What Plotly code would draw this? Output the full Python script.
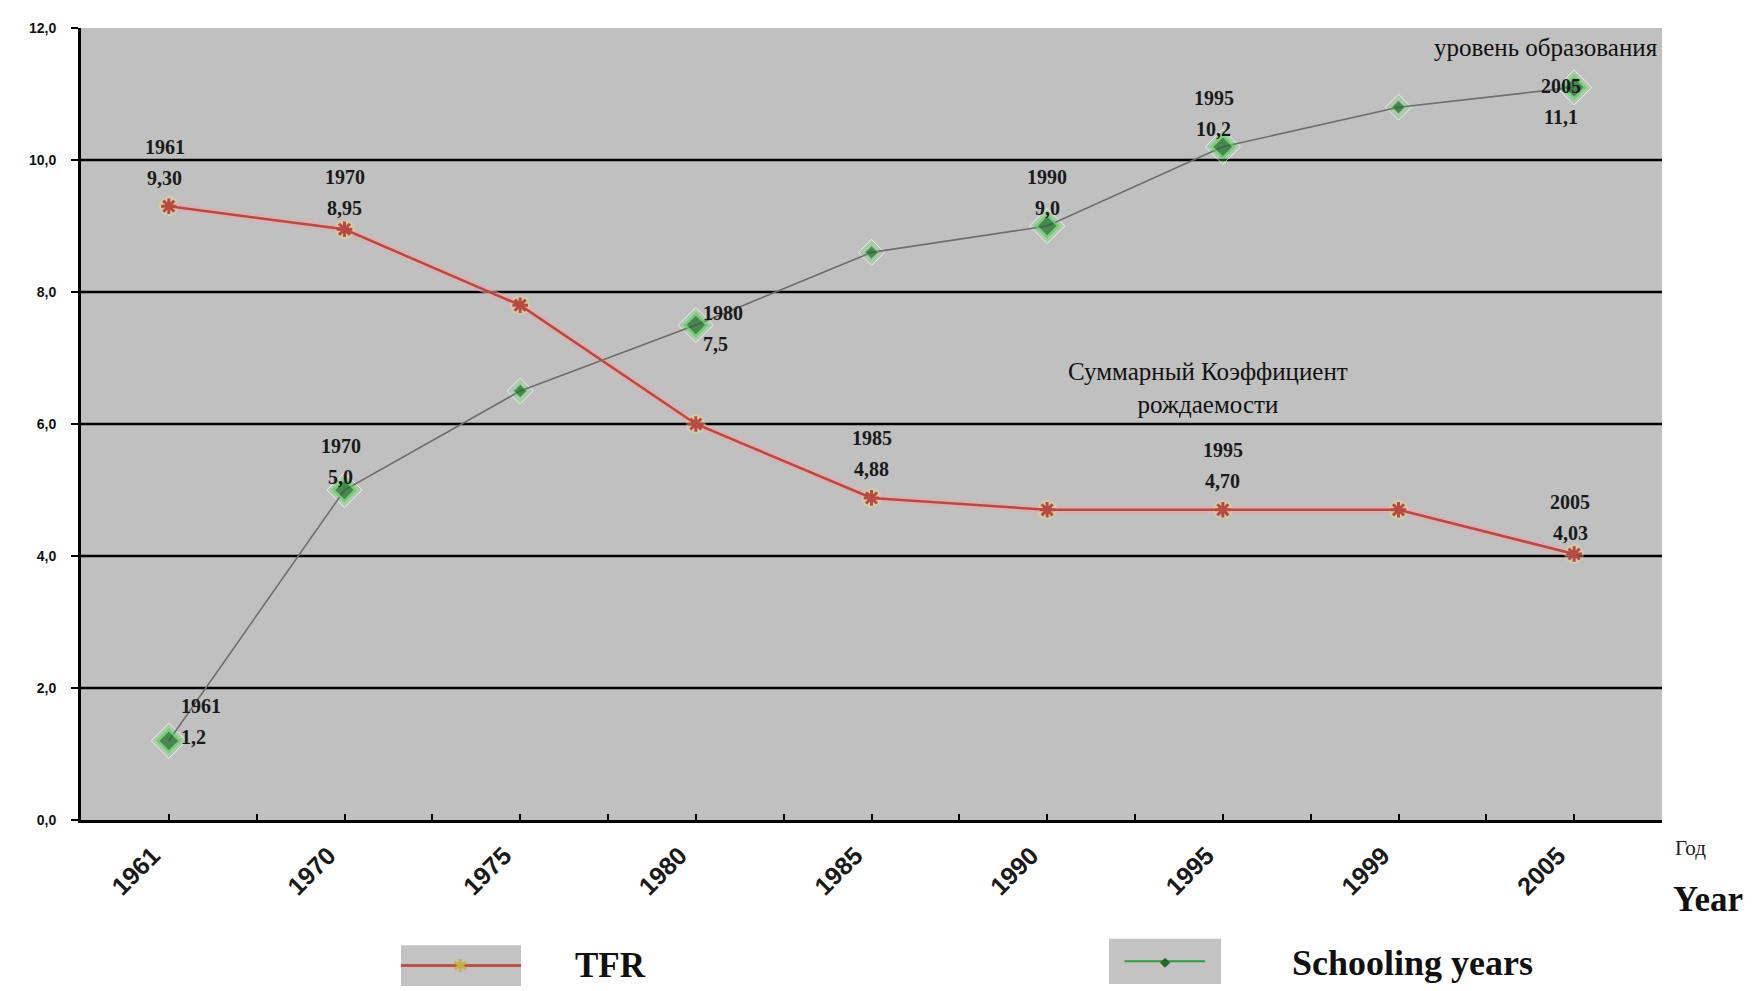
import plotly.graph_objects as go

# ---------------- data ----------------
years = ["1961", "1970", "1975", "1980", "1985", "1990", "1995", "1999", "2005"]
tfr = [9.30, 8.95, 7.80, 6.00, 4.88, 4.70, 4.70, 4.70, 4.03]
schooling = [1.2, 5.0, 6.5, 7.5, 8.6, 9.0, 10.2, 10.8, 11.1]
y_ticks = [0, 2, 4, 6, 8, 10, 12]
y_ticktext = ["0,0", "2,0", "4,0", "6,0", "8,0", "10,0", "12,0"]
grid_values = [2, 4, 6, 8, 10]

# indices of points carrying a data label
tfr_labeled = [0, 1, 4, 6, 8]
school_labeled = [0, 1, 3, 5, 6, 8]

# label placement styles: (xanchor, xshift, value yshift); year line sits LINE_GAP px above
tfr_label_style = {0: ("center", -4, 28), 1: ("center", 0, 21),
                   4: ("center", 0, 29), 6: ("center", 0, 29), 8: ("center", -4, 21)}
school_label_style = {0: ("left", 10, 4), 1: ("center", -4, 13),
                      3: ("left", 5, -19), 5: ("center", 0, 18),
                      6: ("center", -9, 18), 8: ("center", -13, -30)}
LINE_GAP = 31

x = list(range(len(years)))

fig = go.Figure()

# TFR: soft halo + line with asterisk markers
fig.add_trace(go.Scatter(x=x, y=tfr, mode="lines+markers",
                         line=dict(color="rgba(240,165,165,0.6)", width=7),
                         marker=dict(symbol="circle", size=20, color="rgba(235,230,120,0.35)"),
                         hoverinfo="skip", showlegend=False))
fig.add_trace(go.Scatter(x=x, y=tfr, mode="lines+markers", name="TFR",
                         line=dict(color="#B84A44", width=2.5),
                         marker=dict(symbol="asterisk-open", size=13,
                                     line=dict(color="#B8A048", width=3)),
                         showlegend=False))

# Schooling years: glow + gray line with green diamonds
s_sizes = [17 if i in school_labeled else 10 for i in x]
s_line_w = [2.5 if i in school_labeled else 1 for i in x]
fig.add_trace(go.Scatter(x=x, y=schooling, mode="markers",
                         marker=dict(symbol="diamond", size=[s + 10 for s in s_sizes],
                                     color="rgba(120,230,120,0.35)"),
                         hoverinfo="skip", showlegend=False))
fig.add_trace(go.Scatter(x=x, y=schooling, mode="lines+markers", name="Schooling years",
                         line=dict(color="#6E6E6E", width=1.6),
                         marker=dict(symbol="diamond", size=s_sizes, color="#1D6A2C",
                                     line=dict(color="#5FD35F", width=s_line_w)),
                         showlegend=False))

# gridlines (black, through the y scale)
for g in grid_values:
    fig.add_shape(type="line", xref="paper", x0=0, x1=1, yref="y", y0=g, y1=g,
                  line=dict(color="black", width=2.5), layer="below")

label_font = dict(family="Liberation Serif", size=20, color="#1a1a1a", weight="bold")


def fmt(v, nd):
    return f"{v:.{nd}f}".replace(".", ",")


def add_point_label(xi, yi, year, value_text, style):
    xa, dx, dy = style
    fig.add_annotation(x=xi, y=yi, text=value_text, showarrow=False, xanchor=xa,
                       yanchor="middle", xshift=dx, yshift=dy, font=label_font)
    fig.add_annotation(x=xi, y=yi, text=year, showarrow=False, xanchor=xa,
                       yanchor="middle", xshift=dx, yshift=dy + LINE_GAP, font=label_font)


for i in tfr_labeled:
    add_point_label(x[i], tfr[i], years[i], fmt(tfr[i], 2), tfr_label_style[i])
for i in school_labeled:
    add_point_label(x[i], schooling[i], years[i], fmt(schooling[i], 1), school_label_style[i])

# text annotations inside plot
fig.add_annotation(xref="paper", yref="paper", x=0.999, y=0.975, xanchor="right", yanchor="middle",
                   text="уровень образования", showarrow=False,
                   font=dict(family="Liberation Serif", size=25, color="#111111"))
fig.add_annotation(xref="paper", yref="paper", x=0.713, y=0.545, xanchor="center", yanchor="middle",
                   text="Суммарный Коэффициент<br>рождаемости", showarrow=False,
                   font=dict(family="Liberation Serif", size=25, color="#111111"))

# axis titles at right
fig.add_annotation(xref="paper", yref="paper", x=1.007, y=-0.035, xanchor="left", yanchor="middle",
                   text="Год", showarrow=False,
                   font=dict(family="Liberation Serif", size=21, color="#222222"))
fig.add_annotation(xref="paper", yref="paper", x=1.006, y=-0.10, xanchor="left", yanchor="middle",
                   text="<b>Year</b>", showarrow=False,
                   font=dict(family="Liberation Serif", size=35, color="#111111"))

# manual legend
fig.add_shape(type="rect", xref="paper", yref="paper", x0=0.2024, x1=0.2783, y0=-0.2096, y1=-0.158,
              fillcolor="#C3C3C3", line=dict(width=0))
fig.add_shape(type="line", xref="paper", yref="paper", x0=0.2024, x1=0.2783, y0=-0.1838, y1=-0.1838,
              line=dict(color="#C0504A", width=3))
fig.add_annotation(xref="paper", yref="paper", x=0.2403, y=-0.1838, text="✱", showarrow=False,
                   xanchor="center", yanchor="middle",
                   font=dict(family="DejaVu Sans", size=18, color="#C8B040"))
fig.add_annotation(xref="paper", yref="paper", x=0.335, y=-0.1838, text="<b>TFR</b>", showarrow=False,
                   xanchor="center", yanchor="middle",
                   font=dict(family="Liberation Serif", size=35, color="#111111"))

fig.add_shape(type="rect", xref="paper", yref="paper", x0=0.6502, x1=0.7211, y0=-0.207, y1=-0.150,
              fillcolor="#C3C3C3", line=dict(width=0))
fig.add_shape(type="line", xref="paper", yref="paper", x0=0.660, x1=0.711, y0=-0.1785, y1=-0.1785,
              line=dict(color="#2E9E3E", width=2))
fig.add_annotation(xref="paper", yref="paper", x=0.6857, y=-0.1785, text="◆", showarrow=False,
                   xanchor="center", yanchor="middle",
                   font=dict(family="DejaVu Sans", size=13, color="#1D6A2C"))
fig.add_annotation(xref="paper", yref="paper", x=0.842, y=-0.1800, text="<b>Schooling years</b>",
                   showarrow=False, xanchor="center", yanchor="middle",
                   font=dict(family="Liberation Serif", size=36, color="#111111"))

fig.update_layout(
    width=1749, height=983,
    margin=dict(l=73, r=95, t=20, b=171),
    paper_bgcolor="white", plot_bgcolor="#C0C0C0",
    xaxis=dict(range=[-0.5, 8.5], tickmode="array", tickvals=x, ticktext=years,
               tickangle=-45, showgrid=False, zeroline=False,
               showline=True, linecolor="black", linewidth=3,
               ticks="inside", ticklen=6, tickwidth=2, tickcolor="black",
               minor=dict(dtick=0.5, tick0=-0.5, ticks="inside", ticklen=6, tickwidth=2,
                          tickcolor="black", showgrid=False),
               tickfont=dict(family="Liberation Sans", size=25, color="#1a1a1a", weight="bold"),
               ticklabelstandoff=8, ticklabelshift=-16),
    yaxis=dict(range=[0, 12], tickmode="array", tickvals=y_ticks, ticktext=y_ticktext,
               showgrid=False, zeroline=False,
               showline=True, linecolor="black", linewidth=3,
               ticks="outside", ticklen=7, tickwidth=2, tickcolor="black",
               tickfont=dict(family="Liberation Sans", size=14, color="#111111", weight="bold"),
               ticklabelstandoff=12),
    showlegend=False,
)

fig.write_html("out.html")
